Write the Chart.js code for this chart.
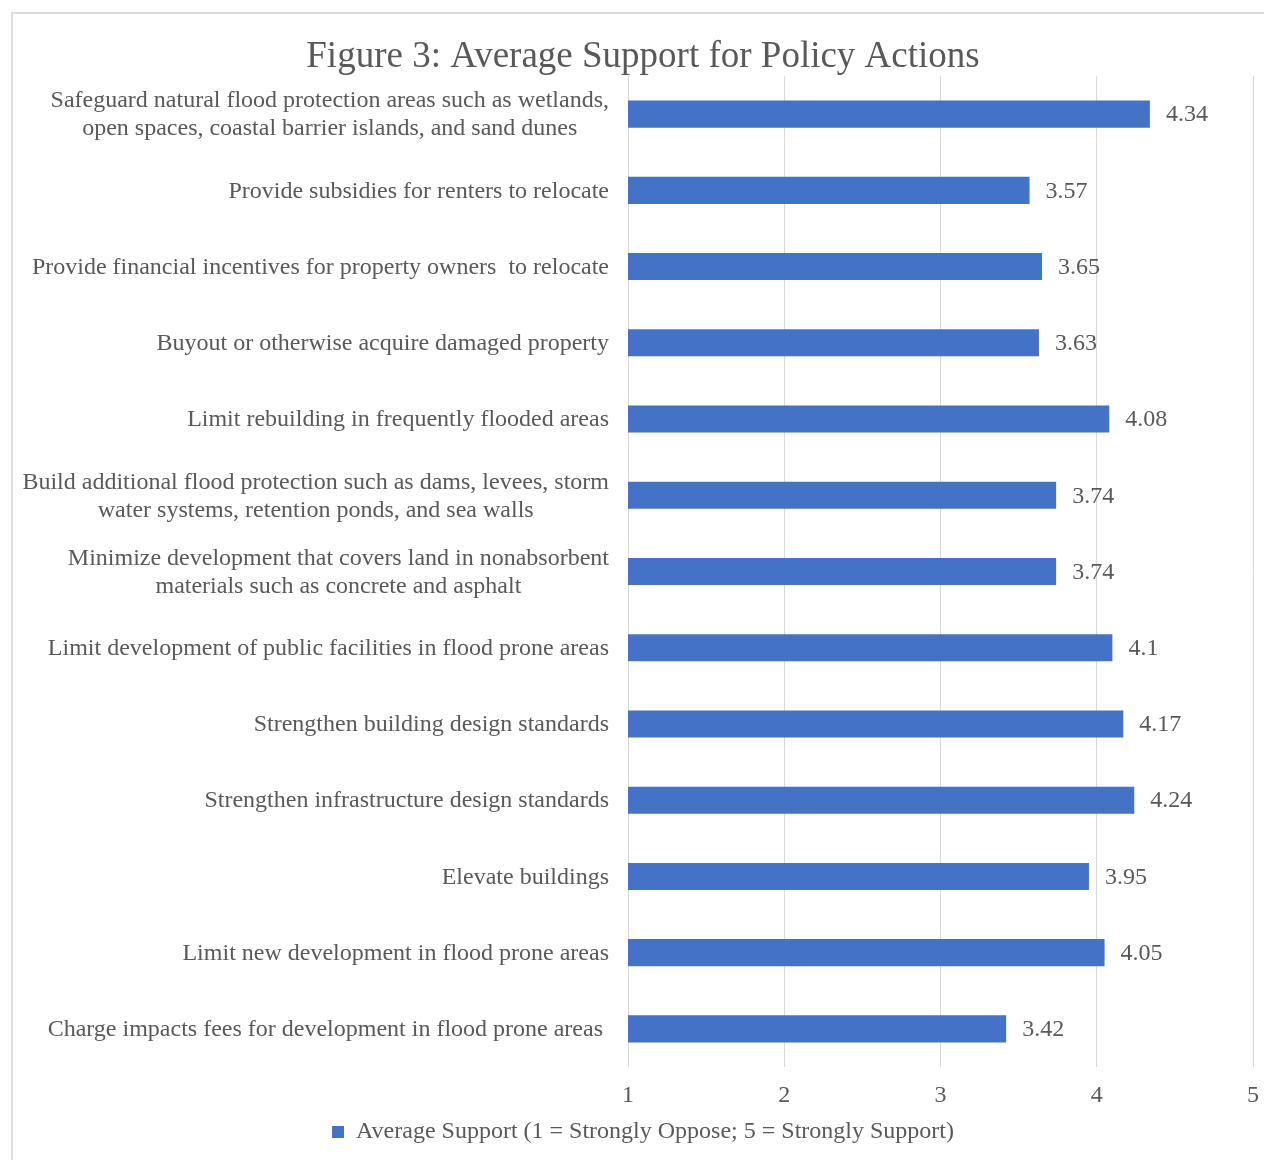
<!DOCTYPE html>
<html>
<head>
<meta charset="utf-8">
<title>Figure 3: Average Support for Policy Actions</title>
<script src="https://cdn.jsdelivr.net/npm/chart.js@4/dist/chart.umd.min.js"></script>
<style>
  html, body { margin: 0; padding: 0; background: #ffffff; overflow: hidden; }
  #frame {
    position: absolute; left: 11px; top: 12px;
    width: 1320px; height: 1220px;
    border: 2px solid #dcdcdc; box-sizing: border-box;
  }
  #wrap { position: absolute; left: 0; top: 0; width: 1264px; height: 1160px; }
</style>
</head>
<body>
<div id="frame"></div>
<div id="wrap"><canvas id="chart" width="1264" height="1160"></canvas></div>
<script>
// Policy actions, top to bottom (multi-line entries are wrapped labels)
const categories = [
  ["Safeguard natural flood protection areas such as wetlands,", "open spaces, coastal barrier islands, and sand dunes"],
  ["Provide subsidies for renters to relocate"],
  ["Provide financial incentives for property owners  to relocate"],
  ["Buyout or otherwise acquire damaged property"],
  ["Limit rebuilding in frequently flooded areas"],
  ["Build additional flood protection such as dams, levees, storm", "water systems, retention ponds, and sea walls"],
  ["Minimize development that covers land in nonabsorbent", "materials such as concrete and asphalt"],
  ["Limit development of public facilities in flood prone areas"],
  ["Strengthen building design standards"],
  ["Strengthen infrastructure design standards"],
  ["Elevate buildings"],
  ["Limit new development in flood prone areas"],
  ["Charge impacts fees for development in flood prone areas "]
];

// Mean support score per action (1 = Strongly Oppose, 5 = Strongly Support)
const averageSupport = [4.34, 3.57, 3.65, 3.63, 4.08, 3.74, 3.74, 4.1, 4.17, 4.24, 3.95, 4.05, 3.42];

const seriesName = "Average Support (1 = Strongly Oppose; 5 = Strongly Support)";
const chartTitle = "Figure 3: Average Support for Policy Actions";
const xTicks = [1, 2, 3, 4, 5];

const TEXT = "#595959";
const BAR = "#4472C4";
const GRID = "#d9d9d9";
const SERIF = '"Liberation Serif", "Times New Roman", serif';
const LABEL_SIZE = 24;
const LINE_H = 28;

// Category labels: each block is right-aligned against the axis, its lines centred
const categoryLabels = {
  id: 'categoryLabels',
  afterDraw(chart) {
    const { ctx, chartArea, scales: { y } } = chart;
    const right = chartArea.left - 19;
    ctx.save();
    ctx.font = LABEL_SIZE + 'px ' + SERIF;
    ctx.fillStyle = TEXT;
    ctx.textBaseline = 'middle';
    ctx.textAlign = 'center';
    categories.forEach((lines, i) => {
      const w = Math.max(...lines.map(l => ctx.measureText(l).width));
      const cx = right - w / 2;
      const cy = y.getPixelForValue(i) + 1;
      lines.forEach((l, j) => {
        ctx.fillText(l, cx, cy + (j - (lines.length - 1) / 2) * LINE_H);
      });
    });
    ctx.restore();
  }
};

// Value labels just past the end of each bar
const valueLabels = {
  id: 'valueLabels',
  afterDatasetsDraw(chart) {
    const { ctx } = chart;
    const meta = chart.getDatasetMeta(0);
    ctx.save();
    ctx.font = LABEL_SIZE + 'px ' + SERIF;
    ctx.fillStyle = TEXT;
    ctx.textBaseline = 'middle';
    ctx.textAlign = 'left';
    meta.data.forEach((bar, i) => {
      ctx.fillText(String(averageSupport[i]), bar.x + 16, bar.y + 1);
    });
    ctx.restore();
  }
};

new Chart(document.getElementById('chart'), {
  type: 'bar',
  data: {
    labels: categories.map(c => c.join(' ')),
    datasets: [{
      label: seriesName,
      data: averageSupport,
      backgroundColor: BAR,
      borderWidth: 0,
      barPercentage: 0.355,
      categoryPercentage: 1.0
    }]
  },
  options: {
    indexAxis: 'y',
    responsive: false,
    animation: false,
    layout: { padding: { top: 12, right: 11, bottom: 6, left: 33 } },
    scales: {
      x: {
        min: 1, max: 5,
        afterBuildTicks(scale) { scale.ticks = xTicks.map(v => ({ value: v })); },
        afterFit(scale) {
          scale.height = 44;
          scale.paddingLeft = 0;
          scale.paddingRight = 0;
        },
        grid: { color: GRID, lineWidth: 1, drawTicks: false },
        border: { display: false },
        ticks: {
          color: TEXT,
          font: { family: SERIF, size: LABEL_SIZE },
          padding: 14,
          maxRotation: 0
        }
      },
      y: {
        grid: { display: false },
        border: { display: false },
        ticks: { display: false },
        afterFit(scale) { scale.width = 595; }
      }
    },
    plugins: {
      title: {
        display: true,
        text: chartTitle,
        color: TEXT,
        font: { family: SERIF, size: 37, weight: 'normal', lineHeight: 1 },
        padding: { top: 26.5, bottom: 0.5 }
      },
      legend: {
        position: 'bottom',
        labels: {
          color: TEXT,
          font: { family: SERIF, size: LABEL_SIZE },
          boxWidth: 12,
          boxHeight: 12,
          padding: 9
        }
      },
      tooltip: { enabled: false }
    }
  },
  plugins: [categoryLabels, valueLabels]
});
</script>
</body>
</html>
